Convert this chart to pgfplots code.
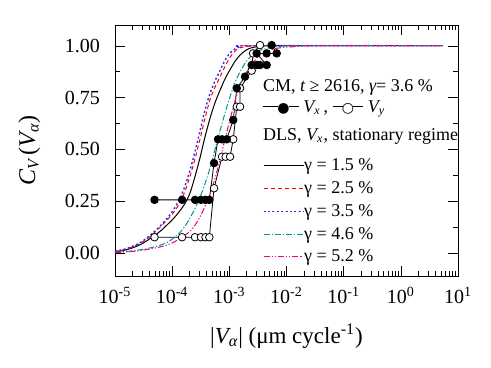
\documentclass[border=0pt]{standalone}
\usepackage{pgfplots}
\pgfplotsset{compat=1.18}
\usepackage{fontspec}
\setmainfont{Liberation Serif}
\newfontfamily\dejavu{DejaVu Sans}
\definecolor{tealc}{RGB}{0,150,150}
\definecolor{dotblue}{RGB}{40,40,255}
\newcommand{\lsamp}[1]{\raisebox{2.6pt}{\rule{#1}{0.45pt}}}
\begin{document}
\begin{tikzpicture}
\path (0,0) rectangle (245.5pt,184pt);
\begin{axis}[
  at={(57.5pt,46pt)}, anchor=south west,
  scale only axis, width=171.5pt, height=125.5pt,
  xmode=log, xmin=1e-5, xmax=10, ymin=-0.11, ymax=1.10,
  xtick={1e-5,1e-4,1e-3,1e-2,1e-1,1,10},
  xticklabels={10\textsuperscript{-5},10\textsuperscript{-4},10\textsuperscript{-3},10\textsuperscript{-2},10\textsuperscript{-1},10\textsuperscript{0},10\textsuperscript{1}},
  ytick={0,0.25,0.5,0.75,1},
  yticklabels={0.00,0.25,0.50,0.75,1.00},
  minor ytick={0.125,0.375,0.625,0.875},
  tick label style={font=\fontsize{10}{12}\selectfont},
  yticklabel style={xshift=-4pt},
  xticklabel style={yshift=-2pt},
  major tick length=5pt, minor tick length=2.5pt,
  tick style={black},
  xlabel={|{\itshape V}\textsubscript{\itshape α}| (μm cycle\textsuperscript{-1})},
  ylabel={{\itshape C}\textsubscript{\itshape V}\,({\itshape V}\textsubscript{\itshape α})},
  xlabel style={at={(rel axis cs:0.5,-0.267)}, anchor=base, font=\fontsize{11.5}{13}\selectfont},
  ylabel style={at={(rel axis cs:-0.25,0.5)}, anchor=center, font=\fontsize{12}{13}\selectfont},
  legend style={draw=none, fill=none, at={(0.431,0.4713)}, anchor=north west, inner sep=0pt, outer sep=0pt, row sep=3.4pt,
    nodes={inner sep=0pt, text height=6.5pt, text depth=1.5pt, font=\fontsize{9}{10}\selectfont}},
  legend cell align=left,
  legend image code/.code={\draw[#1] (0pt,0pt) -- (20pt,0pt);},
]
% V_y (open circles)
\addplot[black, line width=0.4pt, mark=*, mark size=1.9pt, mark options={fill=white, draw=black, solid}, forget plot] coordinates {
(4.91e-5,0.077) (1.49e-4,0.077) (2.51e-4,0.077) (3.19e-4,0.077) (3.83e-4,0.077) (4.47e-4,0.077)
(5.40e-4,0.313) (7.45e-4,0.465) (8.60e-4,0.465) (1.03e-3,0.465) (1.17e-3,0.549) (1.35e-3,0.706)
(1.54e-3,0.706) (1.54e-3,0.795) (2.46e-3,0.880) (2.60e-3,0.963) (3.44e-3,1.003)
};
% V_x (filled circles)
\addplot[black, line width=0.4pt, mark=*, mark size=1.9pt, mark options={fill=black, draw=black, solid}, forget plot] coordinates {
(4.91e-5,0.257) (1.49e-4,0.257) (2.51e-4,0.257) (3.19e-4,0.257) (3.83e-4,0.257) (4.47e-4,0.257)
(5.40e-4,0.434) (6.34e-4,0.549) (7.45e-4,0.549) (8.99e-4,0.549) (1.17e-3,0.642) (1.35e-3,0.795)
(1.88e-3,0.851) (2.46e-3,0.907) (3.01e-3,0.907) (3.44e-3,0.907) (4.50e-3,0.907) (3.01e-3,0.963)
(4.50e-3,0.963) (6.74e-3,0.963) (5.50e-3,1.003)
};
% gamma = 1.5 %
\addplot[black, line width=0.5pt, smooth, no markers] coordinates {
(1e-5,0.005) (1.5e-5,0.015) (2.24e-5,0.03) (2.96e-5,0.045) (4.09e-5,0.07) (6.13e-5,0.105)
(9.17e-5,0.15) (1.12e-4,0.175) (1.37e-4,0.205) (1.68e-4,0.24) (2.05e-4,0.29) (2.51e-4,0.37)
(3.07e-4,0.46) (3.75e-4,0.56) (4.59e-4,0.65) (5.61e-4,0.725) (6.87e-4,0.785) (8.40e-4,0.84)
(1.03e-3,0.885) (1.26e-3,0.925) (1.54e-3,0.955) (1.88e-3,0.975) (2.30e-3,0.988) (3.44e-3,0.997)
(7.69e-3,1.0) (5.46,1.0)
};
\addlegendentry{γ = 1.5 \%}
% gamma = 2.5 %
\addplot[red, line width=0.5pt, smooth, no markers, dash pattern=on 2pt off 1.5pt] coordinates {
(1e-5,0.008) (1.5e-5,0.018) (2.24e-5,0.035) (2.96e-5,0.052) (4.09e-5,0.08) (6.13e-5,0.125)
(9.17e-5,0.175) (1.12e-4,0.205) (1.37e-4,0.245) (1.68e-4,0.30) (2.05e-4,0.37) (2.51e-4,0.455)
(3.07e-4,0.55) (3.75e-4,0.65) (4.59e-4,0.74) (5.61e-4,0.80) (6.87e-4,0.85) (8.40e-4,0.90)
(1.03e-3,0.945) (1.26e-3,0.975) (1.54e-3,0.99) (2.30e-3,0.998) (3.44e-3,1.0) (5.46,1.0)
};
\addlegendentry{γ = 2.5 \%}
% gamma = 3.5 %
\addplot[draw=dotblue, color=dotblue, line width=0.7pt, smooth, no markers, dash pattern=on 1pt off 1.2pt] coordinates {
(1e-5,0.009) (1.5e-5,0.02) (2.24e-5,0.038) (2.96e-5,0.056) (4.09e-5,0.085) (6.13e-5,0.13)
(9.17e-5,0.185) (1.12e-4,0.22) (1.37e-4,0.265) (1.68e-4,0.325) (2.05e-4,0.40) (2.51e-4,0.49)
(3.07e-4,0.59) (3.75e-4,0.69) (4.59e-4,0.77) (5.61e-4,0.83) (6.87e-4,0.88) (8.40e-4,0.93)
(1.03e-3,0.965) (1.26e-3,0.985) (1.54e-3,0.995) (2.30e-3,1.0) (5.46,1.0)
};
\addlegendentry{γ = 3.5 \%}
% gamma = 4.6 %
\addplot[tealc, line width=0.5pt, smooth, no markers, dash pattern=on 3pt off 1pt on 0.6pt off 1pt] coordinates {
(1e-5,0.004) (1.83e-5,0.01) (3.35e-5,0.02) (6.13e-5,0.038) (9.17e-5,0.06) (1.37e-4,0.10)
(1.68e-4,0.13) (2.05e-4,0.17) (2.51e-4,0.215) (3.07e-4,0.27) (3.75e-4,0.335) (4.59e-4,0.41)
(5.61e-4,0.50) (6.87e-4,0.59) (8.40e-4,0.675) (1.03e-3,0.755) (1.26e-3,0.825) (1.54e-3,0.875)
(1.88e-3,0.915) (2.30e-3,0.945) (2.81e-3,0.965) (3.44e-3,0.978) (5.14e-3,0.99) (7.69e-3,0.996)
(1.72e-2,1.0) (5.46,1.0)
};
\addlegendentry{γ = 4.6 \%}
% gamma = 5.2 %
\addplot[magenta, line width=0.5pt, smooth, no markers, dash pattern=on 3pt off 1pt on 0.6pt off 1pt on 0.6pt off 1pt] coordinates {
(1e-5,0.003) (1.83e-5,0.007) (3.35e-5,0.016) (6.13e-5,0.03) (9.17e-5,0.045) (1.37e-4,0.07)
(2.05e-4,0.105) (2.51e-4,0.135) (3.07e-4,0.175) (3.75e-4,0.225) (4.59e-4,0.285) (5.61e-4,0.36)
(6.87e-4,0.45) (8.40e-4,0.55) (1.03e-3,0.645) (1.26e-3,0.735) (1.54e-3,0.805) (1.88e-3,0.86)
(2.30e-3,0.90) (2.81e-3,0.93) (3.44e-3,0.955) (5.14e-3,0.978) (7.69e-3,0.99) (1.72e-2,0.997)
(3.86e-2,1.0) (5.46,1.0)
};
\addlegendentry{γ = 5.2 \%}
\node[anchor=base west, inner sep=0pt, font=\fontsize{9}{10}\selectfont] at (rel axis cs:0.431,0.734)
  {CM, {\itshape t} ≥ 2616, {\itshape γ}= 3.6 \%};
\node[anchor=base west, inner sep=0pt, font=\fontsize{9}{10}\selectfont] at (rel axis cs:0.431,0.653)
  {\lsamp{7.5pt}\kern-0.4pt{\dejavu\fontsize{7}{7}\selectfont ●}\kern-0.4pt\lsamp{5pt}\ {\itshape V}\textsubscript{\itshape x}\,, \lsamp{5pt}\kern-0.4pt{\dejavu\fontsize{7}{7}\selectfont ○}\kern-0.4pt\lsamp{5pt}\ {\itshape V}\textsubscript{\itshape y}};
\node[anchor=base west, inner sep=0pt, font=\fontsize{9}{10}\selectfont] at (rel axis cs:0.431,0.539)
  {DLS, {\itshape V}\textsubscript{\itshape x}, stationary regime};
\end{axis}
\end{tikzpicture}
\end{document}
